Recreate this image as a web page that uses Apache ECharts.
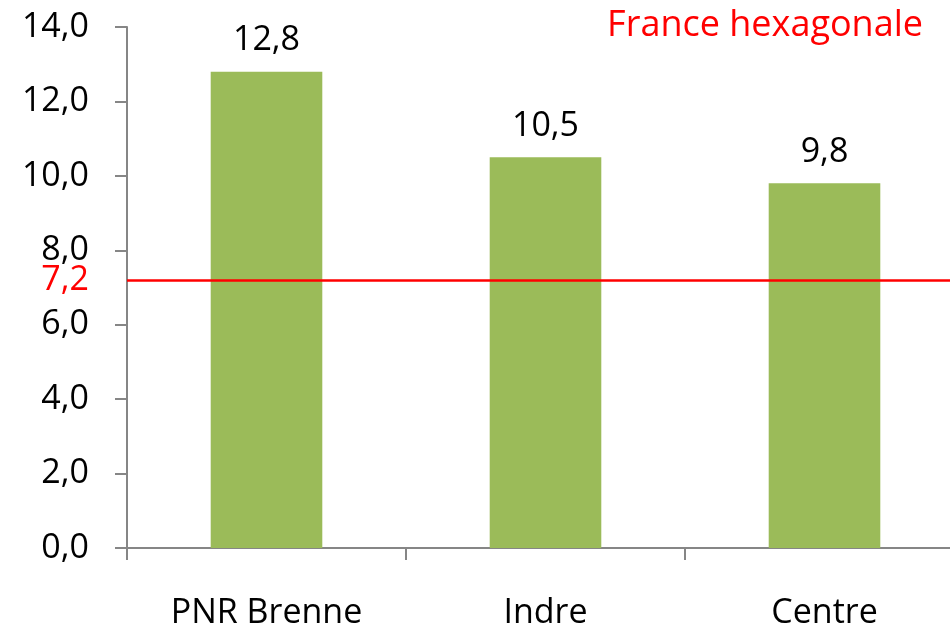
<!DOCTYPE html>
<html>
<head>
<meta charset="utf-8">
<script src="https://cdn.jsdelivr.net/npm/echarts@6/dist/echarts.min.js"></script>
<style>
  html, body { margin: 0; padding: 0; background: #fff; }
  #chart { width: 950px; height: 628px; }
</style>
</head>
<body>
<div id="chart"></div>
<script>
// Zones compared
const categories = ['PNR Brenne', 'Indre', 'Centre'];
// Values per zone
const values = [12.8, 10.5, 9.8];
// National reference line
const referenceName = 'France hexagonale';
const referenceValue = 7.2;

const FONT = '"Open Sans", "Noto Sans", sans-serif';
const fmt = v => v.toFixed(1).replace('.', ',');
const axisGrey = '#868686';

const chart = echarts.init(document.getElementById('chart'));
chart.setOption({
  animation: false,
  backgroundColor: '#ffffff',
  title: {
    text: referenceName,
    right: 22,
    top: 3,
    textStyle: { color: '#ff0000', fontSize: 36, fontWeight: 'normal', fontFamily: FONT }
  },
  grid: {
    left: 127,
    right: -14,
    top: 27,
    bottom: 80,
    containLabel: false,
    outerBoundsMode: 'none'
  },
  xAxis: {
    type: 'category',
    data: categories,
    axisLine: { show: true, lineStyle: { color: axisGrey, width: 2 } },
    axisTick: { show: true, alignWithLabel: false, length: 12, lineStyle: { color: axisGrey, width: 2 } },
    axisLabel: { color: '#000', fontSize: 34, fontFamily: FONT, margin: 48 }
  },
  yAxis: {
    type: 'value',
    min: 0,
    max: 14,
    interval: 2,
    splitLine: { show: false },
    axisLine: { show: true, lineStyle: { color: axisGrey, width: 2 } },
    axisTick: { show: true, length: 12, lineStyle: { color: axisGrey, width: 2 } },
    axisLabel: { color: '#000', fontSize: 34, fontFamily: FONT, margin: 38, formatter: fmt }
  },
  series: [{
    type: 'bar',
    data: values,
    barWidth: '40%',
    itemStyle: { color: '#9bbb59' },
    label: {
      show: true,
      position: 'top',
      distance: 14,
      color: '#000',
      fontSize: 34,
      fontFamily: FONT,
      formatter: p => fmt(p.value)
    },
    markLine: {
      silent: true,
      symbol: 'none',
      lineStyle: { color: '#ff0000', width: 2.5, type: 'solid' },
      label: {
        show: true,
        position: 'start',
        distance: 38,
        color: '#ff0000',
        fontSize: 34,
        fontFamily: FONT,
        formatter: () => fmt(referenceValue)
      },
      data: [{ yAxis: referenceValue }]
    }
  }]
});
</script>
</body>
</html>
